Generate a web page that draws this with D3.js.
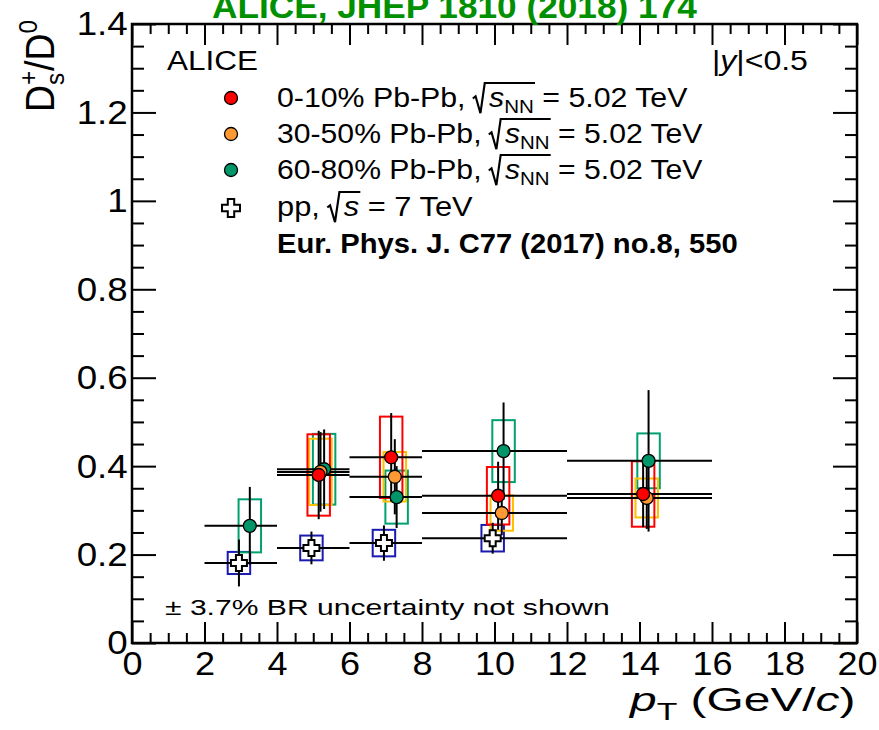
<!DOCTYPE html>
<html>
<head>
<meta charset="utf-8">
<script src="https://cdn.jsdelivr.net/npm/d3@7"></script>
<style>
  body { margin: 0; background: #fff; }
  text { font-family: "Liberation Sans", Arial, sans-serif; }
</style>
</head>
<body>
<div id="chart"></div>
<script>
var svgWidth = 879;
var svgHeight = 730;

var margin = {
  top: 24,
  right: 22,
  bottom: 87,
  left: 132
};

var width = svgWidth - margin.left - margin.right;
var height = svgHeight - margin.top - margin.bottom;

// pp, sqrt(s) = 7 TeV
var ppX = [2.95, 4.95, 6.95, 9.95];
var ppBinLo = [2, 4, 6, 8];
var ppBinHi = [4, 6, 8, 12];
var ppY = [0.181, 0.215, 0.226, 0.237];
var ppStat = [0.053, 0.037, 0.04, 0.035];
var ppSys = [0.025, 0.028, 0.03, 0.03];

// 0-10% Pb-Pb
var c010X = [5.15, 7.15, 10.1, 14.1];
var c010BinLo = [4, 6, 8, 12];
var c010BinHi = [6, 8, 12, 16];
var c010Y = [0.38, 0.42, 0.333, 0.337];
var c010Stat = [0.1, 0.1, 0.077, 0.075];
var c010Sys = [0.092, 0.092, 0.065, 0.074];

// 30-50% Pb-Pb
var c3050X = [5.2, 7.25, 10.2, 14.2];
var c3050BinLo = [4, 6, 8, 12];
var c3050BinHi = [6, 8, 12, 16];
var c3050Y = [0.387, 0.376, 0.294, 0.328];
var c3050Stat = [0.09, 0.085, 0.05, 0.07];
var c3050Sys = [0.075, 0.056, 0.04, 0.044];

// 60-80% Pb-Pb
var c6080X = [3.25, 5.3, 7.3, 10.25, 14.25];
var c6080BinLo = [2, 4, 6, 8, 12];
var c6080BinHi = [4, 6, 8, 12, 16];
var c6080Y = [0.265, 0.393, 0.33, 0.434, 0.412];
var c6080Stat = [0.088, 0.09, 0.07, 0.11, 0.16];
var c6080Sys = [0.06, 0.08, 0.06, 0.07, 0.062];

var xTicks = [0, 2, 4, 6, 8, 10, 12, 14, 16, 18, 20];
var yTicks = [0, 0.2, 0.4, 0.6, 0.8, 1, 1.2, 1.4];
var yTickLabels = ["0", "0.2", "0.4", "0.6", "0.8", "1", "1.2", "1.4"];

var legendLabels = ["0-10% Pb-Pb, ", "30-50% Pb-Pb, ", "60-80% Pb-Pb, "];

function rows(xs, lo, hi, ys, stat, sys) {
  return xs.map((d, i) => ({x: d, lo: lo[i], hi: hi[i], y: ys[i], stat: stat[i], sys: sys[i]}));
}

var series = [
  {name: "pp", data: rows(ppX, ppBinLo, ppBinHi, ppY, ppStat, ppSys), box: "#1a1ab0", fill: "#fff"},
  {name: "60-80", data: rows(c6080X, c6080BinLo, c6080BinHi, c6080Y, c6080Stat, c6080Sys), box: "#00a070", fill: "#00966a"},
  {name: "30-50", data: rows(c3050X, c3050BinLo, c3050BinHi, c3050Y, c3050Stat, c3050Sys), box: "#ffc000", fill: "#ff9933"},
  {name: "0-10", data: rows(c010X, c010BinLo, c010BinHi, c010Y, c010Stat, c010Sys), box: "#ff0000", fill: "#ff0000"}
];

var svg = d3.select("#chart")
  .append("svg")
  .attr("width", svgWidth)
  .attr("height", svgHeight);

var chartGroup = svg.append("g")
  .attr("transform", `translate(${margin.left}, ${margin.top})`);

var xLinearScale = d3.scaleLinear().domain([0, 20]).range([0, width]);
var yLinearScale = d3.scaleLinear().domain([0, 1.4]).range([height, 0]);

var xMinor = d3.range(0, 41).map(i => i * 0.5).filter(d => d % 2 !== 0);
var yMinor = d3.range(0, 29).filter(i => i % 4 !== 0).map(i => i * 0.05);

function styleAxis(g) {
  g.select(".domain").remove();
  g.selectAll("line").attr("stroke", "#000").attr("stroke-width", 2);
  g.attr("font-size", 34).attr("font-family", "'Liberation Sans', Arial, sans-serif");
  g.selectAll("text").attr("fill", "#000");
}

// bottom axis
chartGroup.append("g")
  .attr("transform", `translate(0, ${height})`)
  .call(d3.axisBottom(xLinearScale).tickValues(xTicks).tickSize(-21).tickPadding(8).tickFormat(d3.format("d")))
  .call(styleAxis)
  .selectAll("text").attr("transform", "scale(1.06,1)");
chartGroup.append("g")
  .attr("transform", `translate(0, ${height})`)
  .call(d3.axisBottom(xLinearScale).tickValues(xMinor).tickSize(-10).tickFormat(""))
  .call(styleAxis);

// top axis
chartGroup.append("g")
  .call(d3.axisTop(xLinearScale).tickValues(xTicks).tickSize(-21).tickFormat(""))
  .call(styleAxis);
chartGroup.append("g")
  .call(d3.axisTop(xLinearScale).tickValues(xMinor).tickSize(-10).tickFormat(""))
  .call(styleAxis);

// left axis
chartGroup.append("g")
  .call(d3.axisLeft(yLinearScale).tickValues(yTicks).tickSize(-24).tickPadding(4).tickFormat((d, i) => yTickLabels[i]))
  .call(styleAxis)
  .selectAll("text").attr("transform", "scale(1.08,1)");
chartGroup.append("g")
  .call(d3.axisLeft(yLinearScale).tickValues(yMinor).tickSize(-12).tickFormat(""))
  .call(styleAxis);

// right axis
chartGroup.append("g")
  .attr("transform", `translate(${width}, 0)`)
  .call(d3.axisRight(yLinearScale).tickValues(yTicks).tickSize(-24).tickFormat(""))
  .call(styleAxis);
chartGroup.append("g")
  .attr("transform", `translate(${width}, 0)`)
  .call(d3.axisRight(yLinearScale).tickValues(yMinor).tickSize(-12).tickFormat(""))
  .call(styleAxis);

// frame
chartGroup.append("rect")
  .attr("width", width)
  .attr("height", height)
  .attr("fill", "none")
  .attr("stroke", "#000")
  .attr("stroke-width", 2.5);

// systematic boxes
var boxHalf = 0.31;
series.forEach(function(s) {
  chartGroup.append("g").selectAll("rect")
    .data(s.data)
    .enter()
    .append("rect")
    .attr("x", d => xLinearScale(d.x - boxHalf))
    .attr("width", xLinearScale(2 * boxHalf) - xLinearScale(0))
    .attr("y", d => yLinearScale(d.y + d.sys))
    .attr("height", d => yLinearScale(d.y - d.sys) - yLinearScale(d.y + d.sys))
    .attr("fill", "none")
    .attr("stroke", s.box)
    .attr("stroke-width", 2);
});

// statistical error bars
series.forEach(function(s) {
  var g = chartGroup.append("g").attr("stroke", "#000").attr("stroke-width", 2);
  g.selectAll(".h")
    .data(s.data)
    .enter()
    .append("line")
    .attr("x1", d => xLinearScale(d.lo))
    .attr("x2", d => xLinearScale(d.hi))
    .attr("y1", d => yLinearScale(d.y))
    .attr("y2", d => yLinearScale(d.y));
  g.selectAll(".v")
    .data(s.data)
    .enter()
    .append("line")
    .attr("x1", d => xLinearScale(d.x))
    .attr("x2", d => xLinearScale(d.x))
    .attr("y1", d => yLinearScale(d.y - d.stat))
    .attr("y2", d => yLinearScale(d.y + d.stat));
});

function crossPath(cx, cy, a, b) {
  var p = [[-b, -a], [b, -a], [b, -b], [a, -b], [a, b], [b, b], [b, a], [-b, a], [-b, b], [-a, b], [-a, -b], [-b, -b]];
  return "M" + p.map(q => (cx + q[0]) + "," + (cy + q[1])).join("L") + "Z";
}

// markers
series.slice(1).forEach(function(s) {
  chartGroup.append("g").selectAll("circle")
    .data(s.data)
    .enter()
    .append("circle")
    .attr("cx", d => xLinearScale(d.x))
    .attr("cy", d => yLinearScale(d.y))
    .attr("r", 6.5)
    .attr("fill", s.fill)
    .attr("stroke", "#000")
    .attr("stroke-width", 1.3);
});
chartGroup.append("g").selectAll("path")
  .data(series[0].data)
  .enter()
  .append("path")
  .attr("d", d => crossPath(xLinearScale(d.x), yLinearScale(d.y), 8, 3))
  .attr("fill", "#fff")
  .attr("stroke", "#000")
  .attr("stroke-width", 2);

// text helper: draw at (x, y) and stretch horizontally to the given width
function fitted(x, y, w, size, build) {
  var g = svg.append("g").attr("transform", `translate(${x},${y})`);
  var t = g.append("text").attr("font-size", size);
  build(t);
  var bw = t.node().getBBox().width;
  g.attr("transform", `translate(${x},${y}) scale(${w / bw},1)`);
  return {g: g, t: t};
}

function radical(g, t, sIdx, endIdx, size) {
  var n = t.node();
  var sx = n.getStartPositionOfChar(sIdx).x;
  var ex = n.getEndPositionOfChar(endIdx).x;
  var top = -size * 0.86;
  g.append("path")
    .attr("d", `M${sx - 15},${-size * 0.3} L${sx - 12.5},${-size * 0.38} L${sx - 8},${size * 0.22} L${sx - 4},${top} L${ex + 1},${top}`)
    .attr("fill", "none")
    .attr("stroke", "#000")
    .attr("stroke-width", 2);
}

// title (cut at the top edge as in the source image)
fitted(212, 18, 485, 34, function(t) {
  t.attr("font-family", "'Liberation Serif', 'Times New Roman', serif")
    .attr("font-weight", "bold")
    .attr("fill", "#009000")
    .text("ALICE, JHEP 1810 (2018) 174");
});

// y axis title
(function() {
  var g = svg.append("g").attr("transform", "translate(54,112) rotate(-90)");
  var t = g.append("text").attr("font-size", 40);
  t.append("tspan").text("D");
  var plus = t.append("tspan").attr("font-size", 26).attr("dy", -17).text("+");
  var pw = plus.node().getComputedTextLength();
  t.append("tspan").attr("font-size", 26).attr("dx", -pw).attr("dy", 27).text("s");
  t.append("tspan").attr("dy", -10).attr("dx", 2).text("/D");
  t.append("tspan").attr("font-size", 26).attr("dy", -17).text("0");
  var bw = t.node().getBBox().width;
  g.attr("transform", `translate(54,112) rotate(-90) scale(${92 / bw},1)`);
})();

// x axis title
fitted(630, 711, 227, 34, function(t) {
  t.append("tspan").attr("font-style", "italic").text("p");
  t.append("tspan").attr("font-size", 24).attr("dy", 9).text("T");
  t.append("tspan").attr("dy", -9).text(" (GeV/");
  t.append("tspan").attr("font-style", "italic").text("c");
  t.append("tspan").text(")");
});

// legend
fitted(167, 70, 91, 28, t => t.text("ALICE"));
fitted(712, 70, 96, 28, function(t) {
  t.append("tspan").text("|");
  t.append("tspan").attr("font-style", "italic").text("y");
  t.append("tspan").text("|<0.5");
});

var legendEnds = [411, 426, 426];
var legendBase = [107, 143, 179];
var legendFill = [series[3].fill, series[2].fill, series[1].fill];
legendLabels.forEach(function(lab, i) {
  var r = fitted(277, legendBase[i], legendEnds[i], 28, function(t) {
    t.append("tspan").text(lab);
    t.append("tspan").attr("font-style", "italic").attr("dx", 14).text("s");
    t.append("tspan").attr("font-size", 19).attr("dy", 6).text("NN");
    t.append("tspan").attr("dy", -6).text(" = 5.02 TeV");
  });
  radical(r.g, r.t, lab.length, lab.length + 2, 28);
  svg.append("circle")
    .attr("cx", 231)
    .attr("cy", legendBase[i] - 9)
    .attr("r", 6.5)
    .attr("fill", legendFill[i])
    .attr("stroke", "#000")
    .attr("stroke-width", 1.3);
});

(function() {
  var lab = "pp, ";
  var r = fitted(277, 216, 196, 28, function(t) {
    t.append("tspan").text(lab);
    t.append("tspan").attr("font-style", "italic").attr("dx", 14).text("s");
    t.append("tspan").text(" = 7 TeV");
  });
  radical(r.g, r.t, lab.length, lab.length, 28);
  svg.append("path")
    .attr("d", crossPath(231, 208, 9, 3.2))
    .attr("fill", "#fff")
    .attr("stroke", "#000")
    .attr("stroke-width", 2);
})();

fitted(277, 253, 461, 28, t => t.attr("font-weight", "bold").text("Eur. Phys. J. C77 (2017) no.8, 550"));

fitted(165, 615, 445, 22, t => t.text("\u00b1 3.7% BR uncertainty not shown"));
</script>
</body>
</html>
